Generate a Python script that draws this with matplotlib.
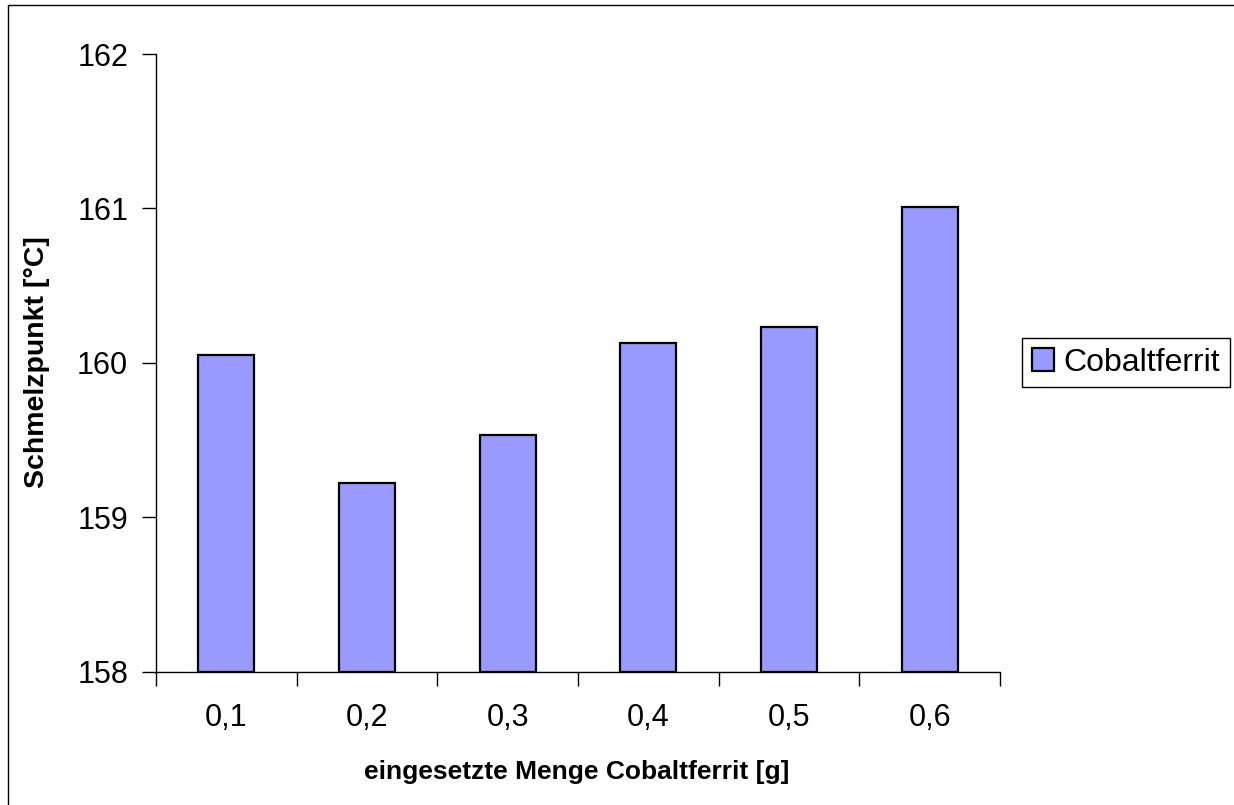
import matplotlib
matplotlib.use("Agg")
import matplotlib.pyplot as plt
from matplotlib.patches import Rectangle

plt.rcParams['font.family'] = ['Liberation Sans', 'DejaVu Sans']

# Cobaltferrit-Menge [g] und gemessener Schmelzpunkt [°C]
menge_labels = ["0,1", "0,2", "0,3", "0,4", "0,5", "0,6"]
schmelzpunkt = [160.05, 159.22, 159.53, 160.13, 160.23, 161.01]

fig = plt.figure(figsize=(12.34, 8.05), dpi=100)
ax = fig.add_axes([156 / 1234, 1 - 671.5 / 805, (1000 - 156) / 1234, (671.5 - 54) / 805])

x = range(len(schmelzpunkt))
base = 158
ax.bar(x, [v - base for v in schmelzpunkt], bottom=base, width=0.40,
       color="#9999FF", edgecolor="black", linewidth=1.6, label="Cobaltferrit")

ax.set_ylim(158, 162)
ax.set_yticks([158, 159, 160, 161, 162])
ax.set_xlim(-0.5, len(schmelzpunkt) - 0.5)
# ticks between categories, labels centred under bars
ax.set_xticks([i - 0.5 for i in range(len(schmelzpunkt) + 1)])
ax.set_xticklabels([])
ax.set_xticks(list(x), minor=True)
ax.set_xticklabels(menge_labels, minor=True)
ax.tick_params(axis="x", which="minor", length=0, pad=23, labelsize=22)
ax.tick_params(axis="x", which="major", length=10, width=1, direction="out")
ax.tick_params(axis="y", length=10, width=1, direction="out", pad=10, labelsize=22)

for s in ["top", "right"]:
    ax.spines[s].set_visible(False)
for s in ["left", "bottom"]:
    ax.spines[s].set_linewidth(1)

fig.text(37 / 1234, 1 - 362 / 805, "Schmelzpunkt [°C]", rotation=90,
         ha="center", va="center", fontsize=20.5, fontweight="bold")
fig.text(577 / 1234, 1 - 772 / 805, "eingesetzte Menge Cobaltferrit [g]",
         ha="center", va="center", fontsize=19, fontweight="bold")

leg = ax.legend(loc="upper left", bbox_to_anchor=(1022 / 1234, 1 - 338 / 805),
                bbox_transform=fig.transFigure, borderaxespad=0, fancybox=False,
                edgecolor="black", framealpha=1, fontsize=23,
                handlelength=0.7, handleheight=0.7, handletextpad=0.3,
                borderpad=0.3)
leg.get_frame().set_linewidth(1)

# chart area border
fig.patches.append(Rectangle((8 / 1234, -0.01), 1.05, 1 - 5 / 805 + 0.01,
                             transform=fig.transFigure, fill=False,
                             edgecolor="black", linewidth=1))

fig.savefig("out.png", dpi=100)
